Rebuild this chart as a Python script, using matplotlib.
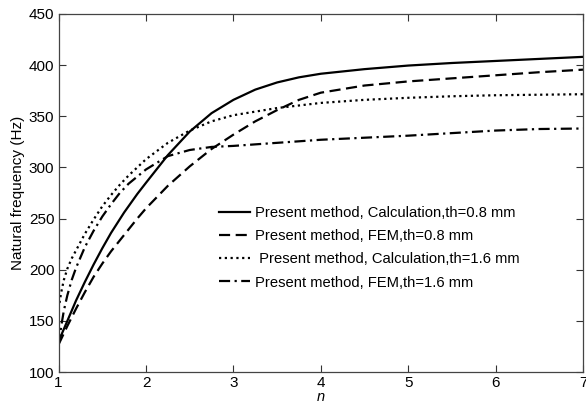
import matplotlib
matplotlib.use("Agg")
import matplotlib.pyplot as plt

plt.rcParams['font.family'] = ['Liberation Sans', 'DejaVu Sans']

# Calculation, th=0.8 mm
n_calc08 = [1.0, 1.1, 1.2, 1.3, 1.4, 1.5, 1.6, 1.75, 1.9, 2.0, 2.25, 2.5, 2.75,
            3.0, 3.25, 3.5, 3.75, 4.0, 4.5, 5.0, 5.5, 6.0, 6.5, 7.0]
f_calc08 = [130, 150, 170, 188, 205, 221, 236, 256, 274, 285, 312, 335, 353,
            366, 376, 383, 388, 391.5, 396, 399.5, 402, 404, 406, 408]

# FEM, th=0.8 mm
n_fem08 = [1.0, 1.1, 1.2, 1.3, 1.4, 1.5, 1.6, 1.75, 1.9, 2.0, 2.25, 2.5, 2.75,
           3.0, 3.25, 3.5, 3.75, 4.0, 4.5, 5.0, 5.5, 6.0, 6.5, 7.0]
f_fem08 = [127, 145, 162, 178, 193, 206, 218, 234, 250, 260, 282, 301, 318,
           332, 345, 356, 366, 373, 380, 384, 387, 390, 393, 395.5]

# Calculation, th=1.6 mm
n_calc16 = [1.0, 1.03, 1.06, 1.1, 1.15, 1.2, 1.3, 1.4, 1.5, 1.6, 1.7, 1.8, 2.0,
            2.25, 2.5, 2.75, 3.0, 3.5, 4.0, 4.5, 5.0, 5.5, 6.0, 6.5, 7.0]
f_calc16 = [162, 178, 190, 201, 211, 219, 235, 249, 262, 273, 283, 292, 308,
            324, 336, 345, 351, 358, 363, 366, 368, 369.5, 370.5, 371, 371.5]

# FEM, th=1.6 mm
n_fem16 = [1.0, 1.03, 1.06, 1.1, 1.15, 1.2, 1.3, 1.4, 1.5, 1.6, 1.7, 1.8, 2.0,
           2.25, 2.5, 2.75, 3.0, 3.5, 4.0, 4.5, 5.0, 5.5, 6.0, 6.5, 7.0]
f_fem16 = [126, 145, 160, 175, 190, 202, 222, 238, 252, 264, 275, 284, 298,
           311, 317, 320, 321, 324, 327, 329, 331, 333.5, 336, 337.5, 338]

labels = [
    'Present method, Calculation,th=0.8 mm',
    'Present method, FEM,th=0.8 mm',
    ' Present method, Calculation,th=1.6 mm',
    'Present method, FEM,th=1.6 mm',
]

fig = plt.figure(figsize=(5.86, 4.08), dpi=100)
ax = fig.add_axes([0.1, 0.088, 0.895, 0.878])

lw = 1.6
ax.plot(n_calc08, f_calc08, '-', color='black', lw=lw, label=labels[0])
ax.plot(n_fem08, f_fem08, color='black', lw=lw, dashes=(5, 2.5), label=labels[1])
ax.plot(n_calc16, f_calc16, color='black', lw=lw, dashes=(1, 1.6), label=labels[2])
ax.plot(n_fem16, f_fem16, color='black', lw=lw, dashes=(5, 2, 1, 2), label=labels[3])

ax.set_xlim(1, 7)
ax.set_ylim(100, 450)
ax.set_xticks(range(1, 8))
ax.set_yticks(range(100, 451, 50))
ax.tick_params(direction='in', top=True, right=True, length=5, width=0.8,
               labelsize=11, colors='#333333', labelcolor='black', pad=3)
for sp in ax.spines.values():
    sp.set_color('#444444')
    sp.set_linewidth(0.9)

ax.set_xlabel('n', style='italic', fontsize=10.5, labelpad=0)
ax.set_ylabel('Natural frequency (Hz)', fontsize=11, labelpad=3)

ax.legend(loc='upper left', bbox_to_anchor=(0.28, 0.50), frameon=False,
          fontsize=10.6, handlelength=2.1, handletextpad=0.35, labelspacing=0.62)

fig.savefig('out.png', dpi=100)
